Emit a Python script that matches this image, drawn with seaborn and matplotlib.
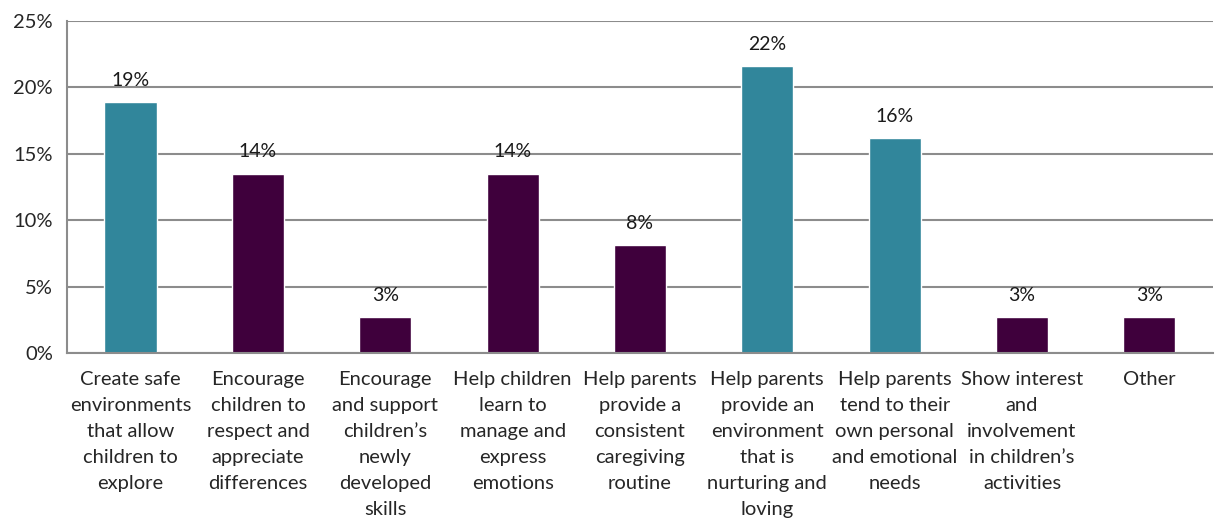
import matplotlib
matplotlib.use("Agg")
import matplotlib.pyplot as plt
from matplotlib.ticker import PercentFormatter, FixedLocator
import seaborn as sns
import pandas as pd

# values
categories = [
    "Create safe\nenvironments\nthat allow\nchildren to\nexplore",
    "Encourage\nchildren to\nrespect and\nappreciate\ndifferences",
    "Encourage\nand support\nchildren\u2019s\nnewly\ndeveloped\nskills",
    "Help children\nlearn to\nmanage and\nexpress\nemotions",
    "Help parents\nprovide a\nconsistent\ncaregiving\nroutine",
    "Help parents\nprovide an\nenvironment\nthat is\nnurturing and\nloving",
    "Help parents\ntend to their\nown personal\nand emotional\nneeds",
    "Show interest\nand\ninvolvement\nin children\u2019s\nactivities",
    "Other",
]
shares = [18.9, 13.5, 2.7, 13.5, 8.1, 21.6, 16.2, 2.7, 2.7]
highlight = [True, False, False, False, False, True, True, False, False]

TEAL = "#31869b"
PURPLE = "#3f003c"
GRID = "#8c8c8c"

df = pd.DataFrame({"category": categories, "share": shares})
palette = [TEAL if h else PURPLE for h in highlight]

sns.set_style("white")
plt.rcParams["font.family"] = ["Lato", "DejaVu Sans"]

fig = plt.figure(figsize=(12.17, 5.21), dpi=100)
ax = fig.add_axes([0.055, 0.3225, 0.9417, 0.6372])

sns.barplot(data=df, x="category", y="share", hue="category", palette=palette,
            width=0.41, legend=False, ax=ax, saturation=1)

# data labels
for i, v in enumerate(shares):
    ax.text(i, v + 1.0, f"{v:.0f}%", ha="center", va="bottom", fontsize=14, color="#1a1a1a")

ax.set_ylim(0, 25)
ax.set_xlim(-0.5, len(categories) - 0.5)
ax.set_yticks([0, 5, 10, 15, 20, 25])
ax.yaxis.set_major_formatter(PercentFormatter(decimals=0))
ax.yaxis.grid(True, color=GRID, linewidth=1.5)
ax.set_axisbelow(True)

# ticks at category boundaries, labels at centres
ax.xaxis.set_major_locator(FixedLocator([i - 0.5 for i in range(len(categories) + 1)]))
ax.xaxis.set_minor_locator(FixedLocator(list(range(len(categories)))))
ax.set_xticklabels([""] * (len(categories) + 1))
ax.set_xticklabels(categories, minor=True)
ax.tick_params(axis="x", which="major", direction="out", length=6, width=1.5, color=GRID)
ax.tick_params(axis="x", which="minor", length=0, pad=13, labelsize=14.5)
ax.tick_params(axis="y", direction="out", length=6, width=1.5, color=GRID, labelsize=14.5, pad=4)
for lab in ax.get_xticklabels(minor=True):
    lab.set_linespacing(1.64)
    lab.set_verticalalignment("top")

for side in ["top", "right"]:
    ax.spines[side].set_visible(False)
for side in ["left", "bottom"]:
    ax.spines[side].set_color(GRID)
    ax.spines[side].set_linewidth(1.5)

ax.set_xlabel("")
ax.set_ylabel("")

fig.savefig("out.png", dpi=100)
